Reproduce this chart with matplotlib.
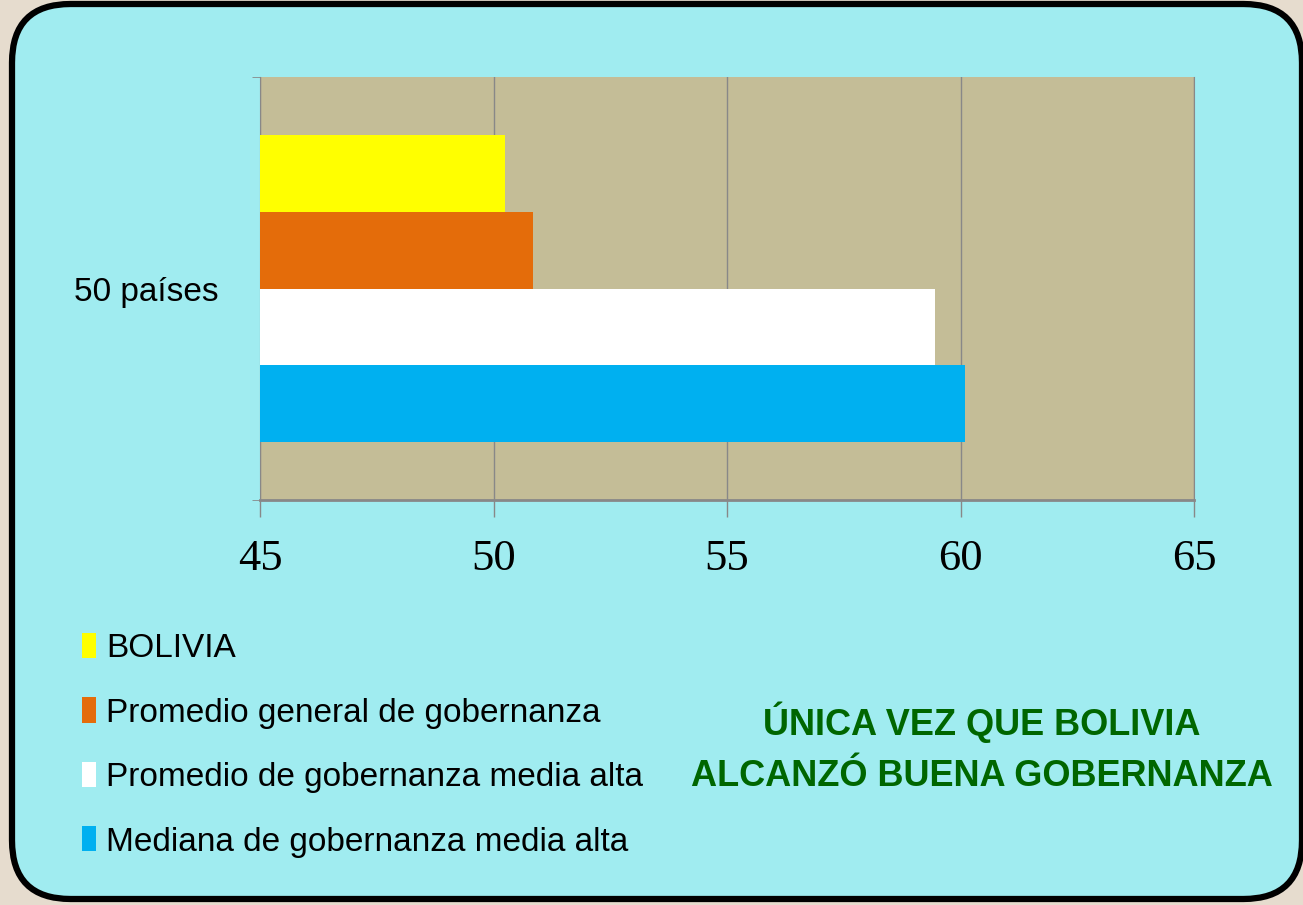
import matplotlib.pyplot as plt
from matplotlib.patches import FancyBboxPatch

# datos
categoria = "50 países"
series = ["BOLIVIA",
          "Promedio general de gobernanza",
          "Promedio de gobernanza media alta",
          "Mediana de gobernanza media alta"]
valores = [50.25, 50.85, 59.45, 60.1]
colores = ["#FFFF00", "#E46C0A", "#FFFFFF", "#00B0F0"]
xticks = [45, 50, 55, 60, 65]

sans = ["Liberation Sans", "DejaVu Sans"]

fig = plt.figure(figsize=(13.03, 9.05), dpi=100)
fig.patch.set_facecolor("#E6DCCE")

# caja redondeada de fondo
W, H = 1303.0, 905.0
caja = FancyBboxPatch((12 / W, 6 / H), 1290 / W, 895 / H,
                      boxstyle="round,pad=0,rounding_size=0.045",
                      transform=fig.transFigure, facecolor="#A0ECF0",
                      edgecolor="black", linewidth=4.5, zorder=-5,
                      mutation_aspect=W / H)
fig.patches.append(caja)

ax = fig.add_axes([260 / W, 1 - 500 / H, 934 / W, 423 / H])
ax.set_zorder(2)
ax.set_facecolor("#C4BD97")

pos = [1.5, 0.5, -0.5, -1.5]
barras = ax.barh(pos, [v - 45 for v in valores], left=45, height=1.0,
                 color=colores, edgecolor="none", zorder=3)

ax.set_xlim(45, 65)
ax.set_ylim(-2.75, 2.75)
ax.set_xticks(xticks)
ax.set_xticklabels([str(t) for t in xticks], family="Liberation Serif",
                   fontsize=32)
ax.tick_params(axis="x", length=12, color="#888888", width=1, pad=16)
ax.grid(axis="x", color="#888888", linewidth=1, zorder=1)

ax.set_yticks([0])
ax.set_yticklabels([categoria], family=sans, fontsize=24)
ax.set_yticks([-2.75, 2.75], minor=True)
ax.tick_params(axis="y", which="major", length=0, pad=30)
ax.tick_params(axis="y", which="minor", length=6, color="#888888")

ax.spines["top"].set_visible(False)
ax.spines["right"].set_color("#888888")
ax.spines["left"].set_color("#888888")
ax.spines["bottom"].set_color("#888888")
ax.spines["bottom"].set_linewidth(2)

fig.legend(barras, series, loc="upper left", bbox_to_anchor=(52 / W, 1 - 603 / H),
           frameon=False, prop={"family": sans, "size": 24},
           handlelength=0.42, handleheight=0.78, handletextpad=0.3,
           labelspacing=1.0)

fig.text(982 / W, 1 - 722 / H, "ÚNICA VEZ QUE BOLIVIA", ha="center", va="center",
         family=sans, fontsize=26, fontweight="bold", color="#006600")
fig.text(982 / W, 1 - 777 / H, "ALCANZÓ BUENA GOBERNANZA", ha="center",
         va="center", family=sans, fontsize=26, fontweight="bold",
         color="#006600")

fig.savefig("out.png", dpi=100, facecolor=fig.get_facecolor())
